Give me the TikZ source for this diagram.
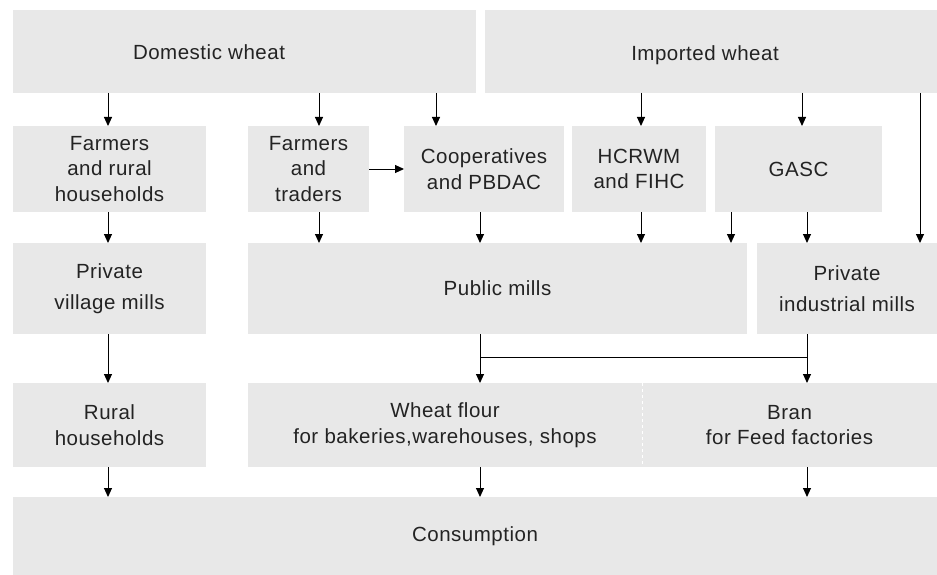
\documentclass[tikz,border=0pt]{standalone}
\usepackage{fontspec}
\setmainfont[LetterSpace=2.5]{Liberation Sans}
\usetikzlibrary{arrows.meta}
\definecolor{boxgray}{RGB}{232,232,232}
\definecolor{txt}{RGB}{35,35,35}
\tikzset{
  box/.style={fill=boxgray, draw=none, inner sep=0pt, outer sep=0pt, anchor=north west,
    align=center, text=txt, font=\fontsize{20.5}{25.5}\selectfont},
  lbl/.style={inner sep=0pt, text=txt, font=\fontsize{20.5}{25.5}\selectfont},
  arr/.style={draw=black, line width=1pt, -{Triangle[length=9pt,width=8pt]}},
  ln/.style={draw=black, line width=1pt},
}
\begin{document}
\begin{tikzpicture}[x=1pt,y=-1pt]
\useasboundingbox (0,0) rectangle (937,575);
% boxes
\node[box, minimum width=463, minimum height=83] (dom) at (13,10) {};
\node[lbl] (domt) at (209,52) {Domestic wheat};
\node[box, minimum width=452, minimum height=83] (imp) at (485,10) {};
\node[lbl] (impt) at (705,55) {Imported wheat};
\node[box, minimum width=193, minimum height=86] (fr) at (13,126) {Farmers\\and rural\\households};
\node[box, minimum width=121, minimum height=86] (ft) at (248,126) {Farmers\\and\\traders};
\node[box, minimum width=160, minimum height=86] (coop) at (404,126) {Cooperatives\\and PBDAC};
\node[box, minimum width=134, minimum height=86] (hc) at (572,126) {HCRWM\\and FIHC};
\node[box, minimum width=167, minimum height=86] (gasc) at (715,126) {GASC};
\node[box, minimum width=193, minimum height=91, font=\fontsize{20.5}{31}\selectfont] (pvm) at (13,243) {Private\\village mills};
\node[box, minimum width=499, minimum height=91] (pub) at (248,243) {Public mills};
\node[box, minimum width=180, minimum height=91, font=\fontsize{20.5}{31}\selectfont] (pim) at (757,243) {Private\\industrial mills};
\node[box, minimum width=193, minimum height=84] (rh) at (13,383) {Rural\\households};
\node[box, minimum width=394, minimum height=84] (wf) at (248,383) {Wheat flour\\for bakeries,warehouses, shops};
\node[box, minimum width=295, minimum height=84] (bran) at (642,383) {Bran\\for Feed factories};
\node[box, minimum width=924, minimum height=78] (cons) at (13,497) {Consumption};
\draw[white, dashed, line width=0.8pt] (wf.north east) -- (wf.south east);
% column coordinates
\coordinate (xa) at (108,0);
\coordinate (xb) at (319,0);
\coordinate (xc) at (436,0);
\coordinate (xd) at (480,0);
\coordinate (xe) at (641,0);
\coordinate (xf) at (802,0);
\coordinate (xg) at (731,0);
\coordinate (xh) at (807,0);
\coordinate (xi) at (920,0);
% row 1 -> row 2
\draw[arr] (dom.south -| xa) -- (fr.north -| xa);
\draw[arr] (dom.south -| xb) -- (ft.north -| xb);
\draw[arr] (dom.south -| xc) -- (coop.north -| xc);
\draw[arr] (imp.south -| xe) -- (hc.north -| xe);
\draw[arr] (imp.south -| xf) -- (gasc.north -| xf);
\draw[arr] (imp.south -| xi) -- (pim.north -| xi);
\draw[arr] (ft.east) -- (coop.west);
% row 2 -> row 3
\draw[arr] (fr.south -| xa) -- (pvm.north -| xa);
\draw[arr] (ft.south -| xb) -- (pub.north -| xb);
\draw[arr] (coop.south -| xd) -- (pub.north -| xd);
\draw[arr] (hc.south -| xe) -- (pub.north -| xe);
\draw[arr] (gasc.south -| xg) -- (pub.north -| xg);
\draw[arr] (gasc.south -| xh) -- (pim.north -| xh);
% row 3 -> row 4
\draw[arr] (pvm.south -| xa) -- (rh.north -| xa);
\draw[arr] (pub.south -| xd) -- (wf.north -| xd);
\draw[arr] (pim.south -| xh) -- (bran.north -| xh);
\coordinate (j1) at (480,357);
\coordinate (j2) at (807,357);
\draw[ln] (j1) -- (j2);
% row 4 -> row 5
\draw[arr] (rh.south -| xa) -- (cons.north -| xa);
\draw[arr] (wf.south -| xd) -- (cons.north -| xd);
\draw[arr] (bran.south -| xh) -- (cons.north -| xh);
\end{tikzpicture}
\end{document}
